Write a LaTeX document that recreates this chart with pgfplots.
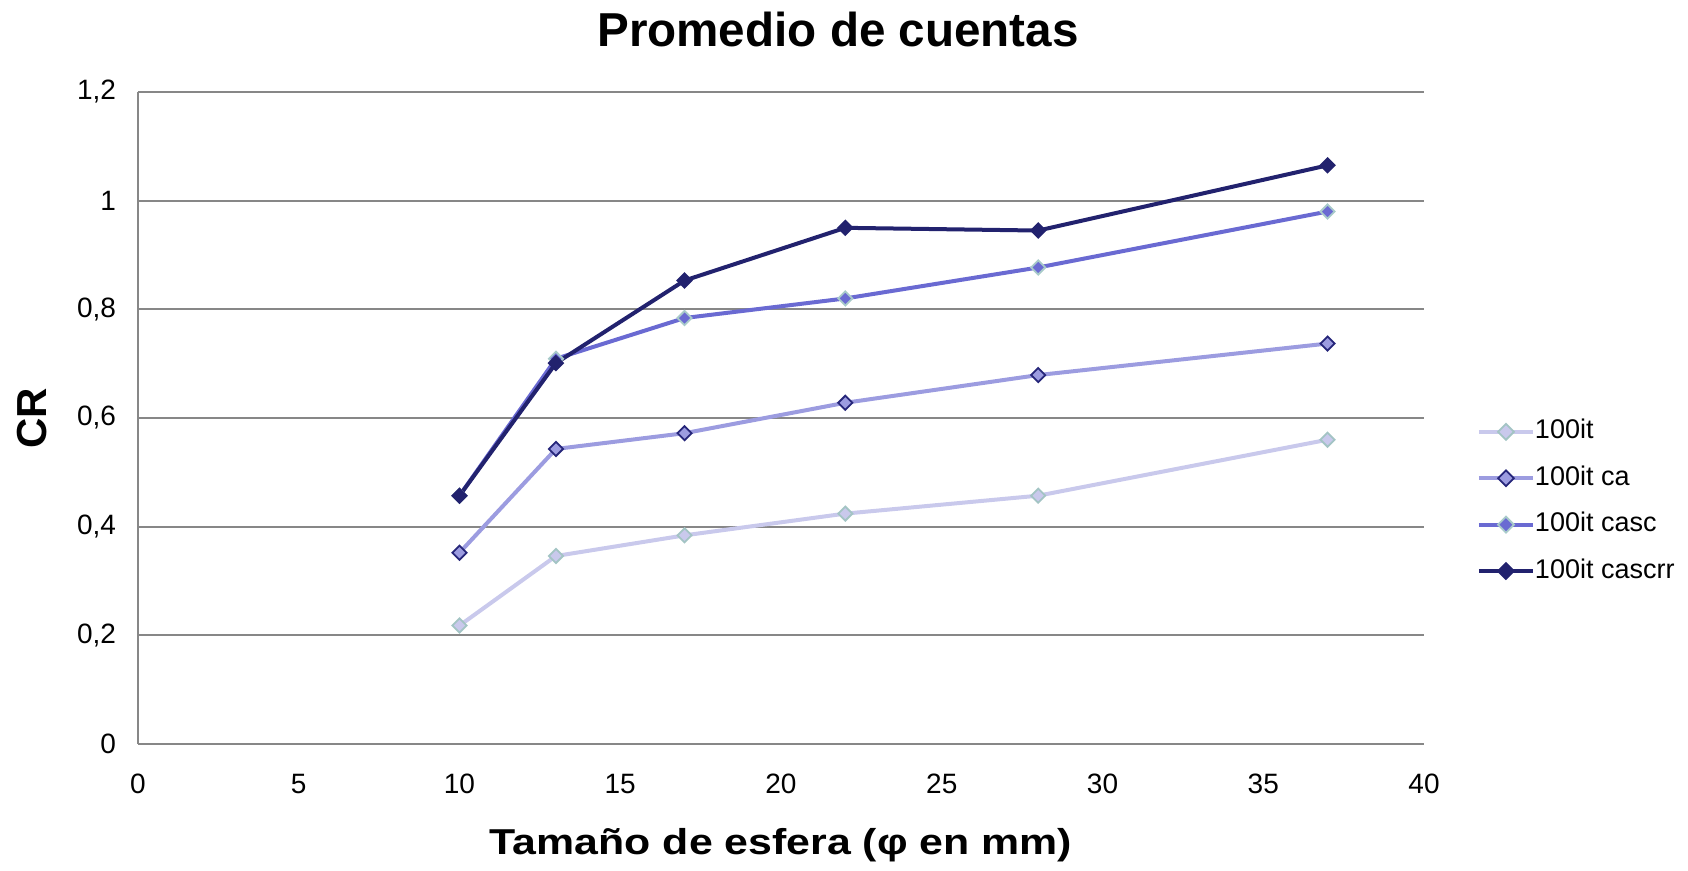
\documentclass[border=0pt]{standalone}
\usepackage{pgfplots}
\pgfplotsset{compat=1.18}
\usepackage{fontspec}
\setmainfont{Liberation Sans}
\newfontfamily\widelabel[FakeStretch=1.19]{Liberation Sans}

\definecolor{gridgray}{HTML}{878787}
\definecolor{cA}{HTML}{C9C9EC}
\definecolor{cAedge}{HTML}{A3C4C4}
\definecolor{cB}{HTML}{9C9CE0}
\definecolor{cBedge}{HTML}{26267A}
\definecolor{cC}{HTML}{6A6AD2}
\definecolor{cCedge}{HTML}{A8CACA}
\definecolor{cD}{HTML}{22226E}

\begin{document}
\begin{tikzpicture}
\begin{axis}[
  scale only axis,
  width=643pt, height=326pt,
  xmin=0, xmax=40, ymin=0, ymax=1.2,
  xtick={0,5,...,40},
  ytick={0,0.2,...,1.2},
  major tick length=0pt,
  axis x line*=bottom, axis y line*=left,
  separate axis lines,
  x axis line style={draw=gridgray, line width=1pt, -},
  y axis line style={draw=gridgray, line width=1pt, -},
  ymajorgrids,
  grid style={gridgray, line width=1pt},
  /pgf/number format/use comma,
  /pgf/number format/assume math mode=true,
  ticklabel style={font=\fontsize{14}{16}\selectfont},
  xticklabel style={yshift=-11.5pt},
  yticklabel style={xshift=-7.5pt},
  clip=false,
  legend style={
    at={(1.0412,0.372)}, anchor=west,
    draw=none, fill=none,
    inner sep=0pt, outer sep=0pt,
    row sep=10.2pt,
    font=\fontsize{13.5}{15}\selectfont,
    nodes={inner sep=0pt, text height=10pt, text depth=3pt},
  },
  legend cell align=left,
  legend image code/.code={
    \draw[#1, mark=none] plot coordinates {(0pt,0pt) (27pt,0pt)};
    \draw[#1, only marks, mark size=2.8pt] plot coordinates {(13.5pt,0pt)};
    \path (26pt,0pt);
  },
]
\addplot[cA, line width=2pt, mark=square*, mark size=2.5pt,
  mark options={rotate=45, fill=cA, draw=cAedge, line width=0.9pt}]
  coordinates {(10,0.218) (13,0.346) (17,0.384) (22,0.424) (28,0.457) (37,0.560)};
\addlegendentry{100it}
\addplot[cB, line width=2pt, mark=square*, mark size=2.5pt,
  mark options={rotate=45, fill=cB, draw=cBedge, line width=0.9pt}]
  coordinates {(10,0.352) (13,0.543) (17,0.572) (22,0.628) (28,0.679) (37,0.737)};
\addlegendentry{100it ca}
\addplot[cC, line width=2pt, mark=square*, mark size=2.5pt,
  mark options={rotate=45, fill=cC, draw=cCedge, line width=0.9pt}]
  coordinates {(10,0.457) (13,0.709) (17,0.784) (22,0.820) (28,0.877) (37,0.980)};
\addlegendentry{100it casc}
\addplot[cD, line width=2pt, mark=square*, mark size=2.5pt,
  mark options={rotate=45, fill=cD, draw=cD, line width=0.9pt}]
  coordinates {(10,0.457) (13,0.701) (17,0.853) (22,0.950) (28,0.945) (37,1.065)};
\addlegendentry{100it cascrr}
\end{axis}
\node[font=\bfseries\fontsize{23.8}{27}\selectfont, anchor=base] at (350pt,348.5pt) {Promedio de cuentas};
\node[font=\widelabel\bfseries\fontsize{18}{21}\selectfont, anchor=base] at (321.5pt,-55.5pt) {Tamaño de esfera (φ en mm)};
\node[font=\bfseries\fontsize{21}{24}\selectfont, rotate=90] at (-52.75pt,162.75pt) {CR};
\pgfresetboundingbox
\path[use as bounding box] (-69pt,-63.5pt) rectangle (775pt,372pt);
\end{tikzpicture}
\end{document}
